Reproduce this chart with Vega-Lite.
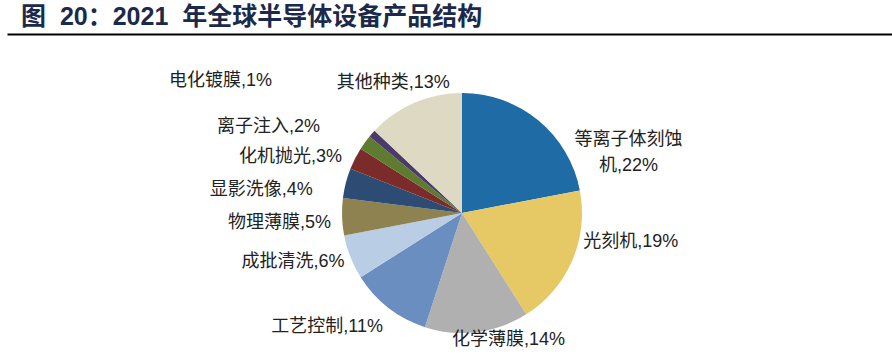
{
  "$schema": "https://vega.github.io/schema/vega-lite/v6.json",
  "width": 860,
  "height": 296,
  "autosize": {"type": "none"},
  "padding": {"left": 32, "top": 65, "right": 0, "bottom": 0},
  "background": "white",
  "config": {"view": {"stroke": null}},
  "title": {
    "text": "图\u00a0\u00a020：2021\u00a0 年全球半导体设备产品结构",
    "anchor": "start",
    "frame": "group",
    "dx": -11,
    "offset": 4,
    "fontSize": 25,
    "fontWeight": "bold",
    "color": "#1B2A4A",
    "font": "Liberation Sans, Noto Sans CJK SC"
  },
  "data": {
    "values": [
      {"idx": 1, "category": "等离子体刻蚀机", "value": 22, "label": "等离子体刻蚀\n机,22%"},
      {"idx": 2, "category": "光刻机", "value": 19, "label": "光刻机,19%"},
      {"idx": 3, "category": "化学薄膜", "value": 14, "label": "化学薄膜,14%"},
      {"idx": 4, "category": "工艺控制", "value": 11, "label": "工艺控制,11%"},
      {"idx": 5, "category": "成批清洗", "value": 6, "label": "成批清洗,6%"},
      {"idx": 6, "category": "物理薄膜", "value": 5, "label": "物理薄膜,5%"},
      {"idx": 7, "category": "显影洗像", "value": 4, "label": "显影洗像,4%"},
      {"idx": 8, "category": "化机抛光", "value": 3, "label": "化机抛光,3%"},
      {"idx": 9, "category": "离子注入", "value": 2, "label": "离子注入,2%"},
      {"idx": 10, "category": "电化镀膜", "value": 1, "label": "电化镀膜,1%"},
      {"idx": 11, "category": "其他种类", "value": 13, "label": "其他种类,13%"}
    ]
  },
  "layer": [
    {
      "mark": {"type": "rule", "opacity": 0},
      "encoding": {
        "x": {
          "datum": 0,
          "type": "quantitative",
          "scale": {"domain": [0, 1], "range": [-25, 860]},
          "axis": {"orient": "top", "offset": 31, "domainColor": "#000000", "domainWidth": 2.2, "ticks": false, "labels": false, "grid": false, "title": null}
        }
      }
    },
    {
      "encoding": {
        "theta": {"field": "value", "type": "quantitative", "stack": true},
        "order": {"field": "idx", "type": "quantitative"}
      },
      "layer": [
        {
          "mark": {"type": "arc", "outerRadius": 120},
          "encoding": {
            "color": {
              "field": "category",
              "type": "nominal",
              "legend": null,
              "scale": {
                "domain": ["等离子体刻蚀机", "光刻机", "化学薄膜", "工艺控制", "成批清洗", "物理薄膜", "显影洗像", "化机抛光", "离子注入", "电化镀膜", "其他种类"],
                "range": ["#1F6BA5", "#E6C865", "#B0B0B0", "#6A8EBF", "#B9CDE5", "#8E8251", "#2C4C74", "#7C2B2B", "#5E7B2F", "#4B3B6B", "#DDD9C3"]
              }
            }
          }
        },
        {
          "mark": {"type": "text", "radius": 120, "align": "center", "baseline": "middle", "dx": 90, "dy": 19.5, "lineBreak": "\n", "lineHeight": 26, "fontSize": 18, "font": "Liberation Sans, Noto Sans CJK SC", "color": "#222222"},
          "encoding": {"text": {"condition": {"test": "datum.category === '等离子体刻蚀机'", "field": "label"}, "value": ""}}
        },
        {
          "mark": {"type": "text", "radius": 120, "align": "left", "baseline": "middle", "dx": 11, "dy": -19, "fontSize": 18, "font": "Liberation Sans, Noto Sans CJK SC", "color": "#222222"},
          "encoding": {"text": {"condition": {"test": "datum.category === '光刻机'", "field": "label"}, "value": ""}}
        },
        {
          "mark": {"type": "text", "radius": 120, "align": "center", "baseline": "middle", "dx": 31.5, "dy": 8, "fontSize": 18, "font": "Liberation Sans, Noto Sans CJK SC", "color": "#222222"},
          "encoding": {"text": {"condition": {"test": "datum.category === '化学薄膜'", "field": "label"}, "value": ""}}
        },
        {
          "mark": {"type": "text", "radius": 120, "align": "right", "baseline": "middle", "dx": -5.5, "dy": 19, "fontSize": 18, "font": "Liberation Sans, Noto Sans CJK SC", "color": "#222222"},
          "encoding": {"text": {"condition": {"test": "datum.category === '工艺控制'", "field": "label"}, "value": ""}}
        },
        {
          "mark": {"type": "text", "radius": 120, "align": "right", "baseline": "middle", "dx": -6, "dy": 5, "fontSize": 18, "font": "Liberation Sans, Noto Sans CJK SC", "color": "#222222"},
          "encoding": {"text": {"condition": {"test": "datum.category === '成批清洗'", "field": "label"}, "value": ""}}
        },
        {
          "mark": {"type": "text", "radius": 120, "align": "right", "baseline": "middle", "dx": -11, "dy": 6, "fontSize": 18, "font": "Liberation Sans, Noto Sans CJK SC", "color": "#222222"},
          "encoding": {"text": {"condition": {"test": "datum.category === '物理薄膜'", "field": "label"}, "value": ""}}
        },
        {
          "mark": {"type": "text", "radius": 120, "align": "right", "baseline": "middle", "dx": -33, "dy": 7, "fontSize": 18, "font": "Liberation Sans, Noto Sans CJK SC", "color": "#222222"},
          "encoding": {"text": {"condition": {"test": "datum.category === '显影洗像'", "field": "label"}, "value": ""}}
        },
        {
          "mark": {"type": "text", "radius": 120, "align": "right", "baseline": "middle", "dx": -13, "dy": -2, "fontSize": 18, "font": "Liberation Sans, Noto Sans CJK SC", "color": "#222222"},
          "encoding": {"text": {"condition": {"test": "datum.category === '化机抛光'", "field": "label"}, "value": ""}}
        },
        {
          "mark": {"type": "text", "radius": 120, "align": "right", "baseline": "middle", "dx": -45, "dy": -15.5, "fontSize": 18, "font": "Liberation Sans, Noto Sans CJK SC", "color": "#222222"},
          "encoding": {"text": {"condition": {"test": "datum.category === '离子注入'", "field": "label"}, "value": ""}}
        },
        {
          "mark": {"type": "text", "radius": 120, "align": "right", "baseline": "middle", "dx": -100, "dy": -52.6, "fontSize": 18, "font": "Liberation Sans, Noto Sans CJK SC", "color": "#222222"},
          "encoding": {"text": {"condition": {"test": "datum.category === '电化镀膜'", "field": "label"}, "value": ""}}
        },
        {
          "mark": {"type": "text", "radius": 120, "align": "center", "baseline": "middle", "dx": -21, "dy": -20, "fontSize": 18, "font": "Liberation Sans, Noto Sans CJK SC", "color": "#222222"},
          "encoding": {"text": {"condition": {"test": "datum.category === '其他种类'", "field": "label"}, "value": ""}}
        }
      ]
    }
  ]
}
